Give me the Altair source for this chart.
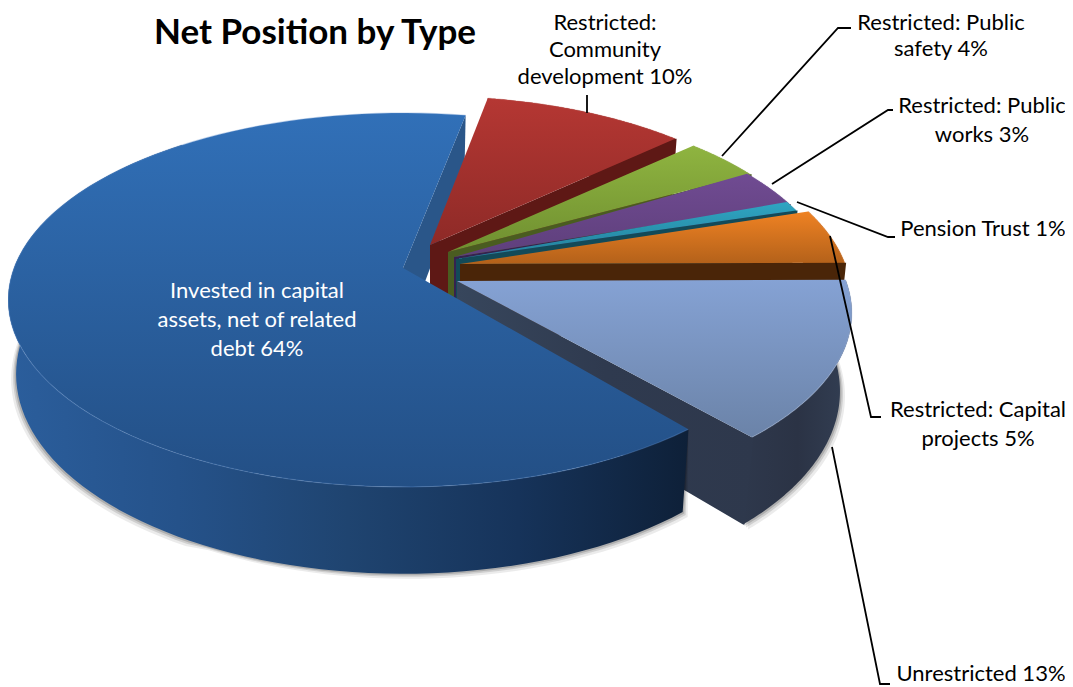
import math
import altair as alt
import pandas as pd

# ---- data ----
names = ["Restricted: Community development", "Restricted: Public safety", "Restricted: Public works",
         "Pension Trust", "Restricted: Capital projects", "Unrestricted",
         "Invested in capital assets, net of related debt"]
shares = [10.2, 3.9, 2.8, 0.9, 4.2, 13.9, 64.0]

title_text = "Net Position by Type"
label_lines = [
    ["Restricted:", "Community", "development 10%"],
    ["Restricted: Public", "safety 4%"],
    ["Restricted: Public", "works 3%"],
    ["Pension Trust 1%"],
    ["Restricted: Capital", "projects 5%"],
    ["Unrestricted 13%"],
    ["Invested in capital", "assets, net of related", "debt 64%"],
]

# ---- layout of the 3-D look (scale units equal the picture's pixels) ----
START_DEG = 10.4
P, Q, R = 0.171, 181.5, 389.0
apex = [(430, 245), (448, 252), (454, 257), (456, 259), (460, 264), (457, 281), (403, 268)]
radius_factor = [0.96, 0.96, 0.96, 0.96, 0.99, 1.0, 1.0]
depths = [72, 72, 72, 72, 72, 76, 72]
shrinks = [0.98, 0.98, 0.98, 0.98, 0.98, 0.97, 0.98]
nudge_start = [0, 0, -2.5, -1.5, -2.4, 0, 0.8]   # small perspective corrections, degrees
nudge_end = [0, 0, 0, -1.5, 0, -1.0, 0.8]
top_stops = [("#b53733", "#8e2a27"), ("#8fb440", "#6f8f30"), ("#704b92", "#5e3f7b"),
             ("#2fa5c2", "#23809a"), ("#ef8223", "#b3611a"), ("#85a2d4", "#6b83a8"),
             ("#3170b8", "#234f85")]
side_stops = [["#5e1815", "#5e1815"], ["#4a5c20", "#4a5c20"], ["#35224f", "#35224f"],
              ["#124a58", "#124a58"], ["#4a2508", "#4a2508"], ["#37465c", "#2f3a4f", "#2e384c"],
              ["#2a5689", "#2a5689"]]
rim_stops = [["#7a211d", "#5e1815"], ["#5f7a28", "#4a5c20"], ["#46306a", "#35224f"],
             ["#1a6072", "#124a58"], ["#6a360c", "#4a2508"],
             ["#2e384c", "#2b3345", "#333f54"],
             ["#2b5e9c", "#25528a", "#1f4470", "#16335a", "#0e2038"]]
rim_edge = ["#c9524e", "#a5c45f", "#8a68aa", "#5cbcd4", "#f59c50", "#a8bde0", "#5c8ccc"]

X = alt.X("x:Q", scale=alt.Scale(domain=[8, 1065], nice=False, zero=False), axis=None)
Y = alt.Y("y:Q", scale=alt.Scale(domain=[8, 687], nice=False, zero=False, reverse=True), axis=None)


def rim(i, a0, a1, n=90):
    ax, ay = apex[i]
    f = radius_factor[i]
    top, bot = [], []
    for k in range(n + 1):
        a = math.radians(a0 + (a1 - a0) * k / n)
        u, v = math.sin(a), math.cos(a)
        w = 1 + P * v
        px = ax + f * R * u / w
        py = ay - f * Q * v / w
        top.append((px, py))
        bot.append((ax + (px - ax) * shrinks[i], py + depths[i] / w))
    return top, bot


def grad_h(cols):
    return alt.Gradient(gradient="linear", x1=0, x2=1, y1=0, y2=0,
                        stops=[alt.GradientStop(color=c, offset=j / (len(cols) - 1)) for j, c in enumerate(cols)])


def grad_v(c0, c1):
    return alt.Gradient(gradient="linear", x1=0, x2=0, y1=0, y2=1,
                        stops=[alt.GradientStop(color=c0, offset=0), alt.GradientStop(color=c1, offset=1)])


def poly(points, fill, **kw):
    df = pd.DataFrame(points, columns=["x", "y"]).reset_index(names="o")
    return alt.Chart(df).mark_line(fill=fill, strokeWidth=0, **kw).encode(x=X, y=Y, order="o:Q")


def path(points, color, width=1.6, opacity=1.0):
    df = pd.DataFrame(points, columns=["x", "y"]).reset_index(names="o")
    return alt.Chart(df).mark_line(color=color, strokeWidth=width, opacity=opacity).encode(x=X, y=Y, order="o:Q")


bounds = []
acc = START_DEG
for i, s in enumerate(shares):
    bounds.append((acc + nudge_start[i], acc + s * 3.6 + nudge_end[i]))
    acc += s * 3.6

layers = []
# the big slice's cut face sits behind everything else
t6, b6 = rim(6, *bounds[6])
ax6, ay6 = apex[6]
layers.append(poly([(ax6, ay6), t6[-1], b6[-1], (ax6, ay6 + depths[6])], grad_h(side_stops[6])))

for i in range(7):
    a0, a1 = bounds[i]
    top, bot = rim(i, a0, a1)
    ax, ay = apex[i]
    wall_top, wall_bot = rim(i, a0, min(a1, 320))
    if i >= 5:  # soft shadow below the near walls
        for off, op in ((5, 0.08), (3, 0.12), (1.5, 0.16)):
            layers.append(poly([(x - (off if i == 6 and x < 200 else -off), y + off) for x, y in wall_bot]
                               + list(reversed(wall_top)), "#000000", opacity=op))
    layers.append(poly(wall_top + list(reversed(wall_bot)), grad_h(rim_stops[i])))
    if i != 6:
        # overlap the rim wall by a pixel so that no seam shows where the two faces meet
        layers.append(poly([(ax, ay), top[-1], (top[-1][0] + 1.5, top[-1][1]), (bot[-1][0] + 1.5, bot[-1][1]),
                            bot[-1], (ax, ay + depths[i])], grad_h(side_stops[i])))
    layers.append(poly([(ax, ay)] + top, grad_v(*top_stops[i])))
    layers.append(path(top, rim_edge[i], 1.2, 0.35))

# leader lines
leaders = [
    [(587, 113), (587, 95)],
    [(722, 156), (838, 28), (851, 28)],
    [(772, 184), (888, 110), (893, 110)],
    [(797, 202), (888, 237), (895, 237)],
    [(830, 236), (871, 417), (881, 417)],
    [(832, 447), (880, 684), (890, 684)],
]
for pts in leaders:
    layers.append(path(pts, "#000000", 1.8))

# texts
FONT = "Lato"
label_pos = [(605, 23, 27), (941, 23, 26), (982, 106, 29), (983, 229, 29), (978, 410, 29), (981, 674, 29), (257, 291, 29)]
rows = []
for lines, (cx, y0, dy), nm in zip(label_lines, label_pos, names):
    for j, line in enumerate(lines):
        rows.append({"x": cx, "y": y0 + j * dy, "t": line, "c": "#ffffff" if nm.startswith("Invested") else "#000000"})
layers.append(alt.Chart(pd.DataFrame(rows)).mark_text(font=FONT, fontSize=22, align="center", baseline="middle").encode(
    x=X, y=Y, text="t:N", color=alt.Color("c:N", scale=None)))
layers.append(alt.Chart(pd.DataFrame([{"x": 315, "y": 33, "t": title_text}])).mark_text(
    font=FONT, fontSize=35, fontWeight="bold", align="center", baseline="middle", color="#000000").encode(x=X, y=Y, text="t:N"))

chart = alt.layer(*layers).properties(
    width=1057, height=679, padding=0, background="#ffffff",
    autosize=alt.AutoSizeParams(type="none"),
).configure_view(stroke=None)
chart.save("out.html", embed_options={"renderer": "svg", "actions": False})
